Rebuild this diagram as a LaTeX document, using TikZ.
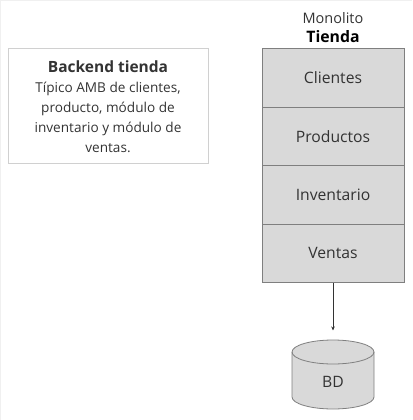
\documentclass[tikz,border=0pt]{standalone}
\usepackage{fontspec}
\setmainfont{Open Sans}
\usetikzlibrary{arrows.meta}
\definecolor{rowfill}{HTML}{D9D9D9}
\definecolor{rowline}{HTML}{7F7F7F}
\definecolor{txt}{HTML}{333333}
\definecolor{boxline}{HTML}{D0D0D0}
\tikzset{
  rowbox/.style={draw=rowline, fill=rowfill, line width=0.8pt, minimum width=142pt, minimum height=58.5pt, inner sep=0pt, text=txt, font=\fontsize{15.7}{19}\selectfont},
  notebox/.style={draw=boxline, line width=0.8pt, minimum width=200pt, minimum height=115pt, inner sep=0pt},
  notetext/.style={text=txt, align=center, font=\fontsize{13.6}{20}\selectfont},
  conn/.style={draw=txt, line width=0.6pt, -{Stealth[length=4pt,width=3.5pt]}},
  cyl/.style={draw=rowline, fill=rowfill, line width=0.8pt}
}
\begin{document}
\begin{tikzpicture}[x=1pt,y=-1pt]
\useasboundingbox (0,0) rectangle (412,420);
\draw[gray!12, line width=1pt] (0.5,420) -- (0.5,0.5) -- (412,0.5);
% note box
\node[notebox] (note) at (108,106) {};
\node[notetext] (notet) at (108,107) {{\fontsize{15.5}{20}\selectfont\bfseries Backend tienda}\\Típico AMB de clientes,\\producto, módulo de\\inventario y módulo de\\ventas.};
% title
\node[text=txt, font=\fontsize{14.5}{17}\selectfont] (mono) at (333,18) {Monolito};
\node[text=black, font=\fontsize{15.8}{19}\selectfont\bfseries] (tienda) at (333,37) {Tienda};
% column
\node[rowbox] (clientes) at (333,77.75) {Clientes};
\node[rowbox] (productos) at (333,136.25) {Productos};
\node[rowbox] (inventario) at (333,194.75) {Inventario};
\node[rowbox] (ventas) at (333,253.25) {Ventas};
% cylinder
\path[cyl] (292,352) -- (292,397) arc[start angle=180, end angle=0, x radius=41, y radius=12] -- (374,352) arc[start angle=360, end angle=180, x radius=41, y radius=12] -- cycle;
\draw[rowline, line width=0.8pt] (292,352) arc[start angle=180, end angle=0, x radius=41, y radius=12];
\coordinate (cyltop) at (333,340);
\node[text=txt, font=\fontsize{15.7}{19}\selectfont] (bd) at (333,382) {BD};
\draw[conn, shorten >=9.5pt] (ventas.south) -- (cyltop);
\end{tikzpicture}
\end{document}
